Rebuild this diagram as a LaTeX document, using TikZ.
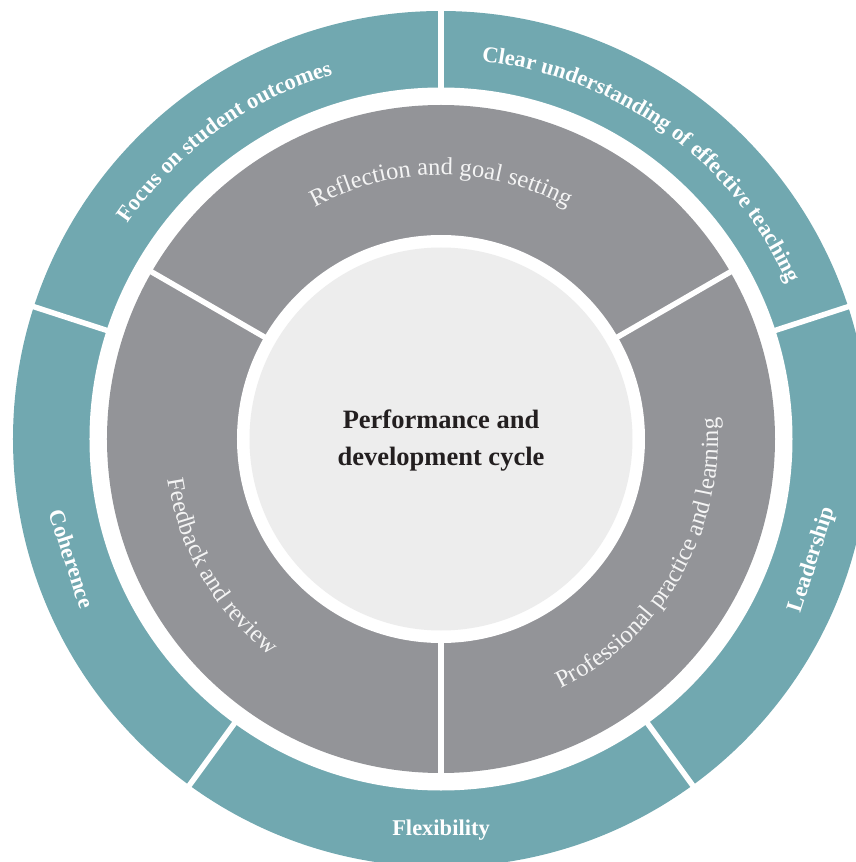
\documentclass[tikz,border=0pt]{standalone}
\usepackage{fontspec}
\setmainfont{Liberation Serif}
\usetikzlibrary{decorations.text}
\definecolor{ringteal}{HTML}{71A8B0}
\definecolor{ringgray}{HTML}{939498}
\definecolor{corelight}{HTML}{EDEDED}
\definecolor{coretext}{HTML}{231F20}
\definecolor{innertext}{HTML}{F4F4F4}
\tikzset{
  divider/.style={draw=white, line width=5.5pt},
  outertext/.style={text=white, font=\fontsize{22.5}{27}\selectfont\bfseries, inner sep=0pt},
  centertext/.style={text=coretext, font=\fontsize{26.5}{37}\selectfont\bfseries, align=center, inner sep=0pt},
  arcout/.style={decorate, decoration={text along path, text align=center, text color=white,
     text={|\fontsize{22.5}{27}\selectfont\bfseries|#1}}},
  arcin/.style={decorate, decoration={text along path, text align=center, text color=innertext,
     text={|\fontsize{24.5}{29}\selectfont|#1}}},
}
\begin{document}
\begin{tikzpicture}[x=1pt,y=1pt]
\useasboundingbox (-441,-423) rectangle (414,439);
% outer teal ring
\fill[ringteal] (0,0) circle (428);
\fill[white] (0,0) circle (351.5);
% grey ring
\fill[ringgray] (0,0) circle (334);
\fill[white] (0,0) circle (204);
% core
\fill[corelight] (0,0) circle (191.5);
% outer dividers
\foreach \a in {90,18,-54,-126,162}
  \draw[divider] (\a:345) -- (\a:440);
% inner dividers
\foreach \a in {30,150,270}
  \draw[divider] (\a:200) -- (\a:340);
% outer curved texts
\path[arcout={Focus on student outcomes}] (162:380) arc[start angle=162, end angle=90, radius=380];
\path[arcout={Clear understanding of effective teaching}] (90:380) arc[start angle=90, end angle=18, radius=380];
% outer straight texts
\node[outertext, rotate=72, anchor=base] (lead) at (-18:396) {Leadership};
\node[outertext, anchor=base] (flex) at (270:396) {Flexibility};
\node[outertext, rotate=-72, anchor=base] (coh) at (198:396) {Coherence};
% inner curved texts
\path[arcin={Reflection and goal setting}] (150:264) arc[start angle=150, end angle=30, radius=264];
\path[arcin={Professional practice and learning}] (-90:277) arc[start angle=-90, end angle=30, radius=277];
\path[arcin={Feedback and review}] (150:276) arc[start angle=150, end angle=270, radius=276];
% centre
\node[centertext] (core) at (0,-1.5) {Performance and\\development cycle};
\end{tikzpicture}
\end{document}
